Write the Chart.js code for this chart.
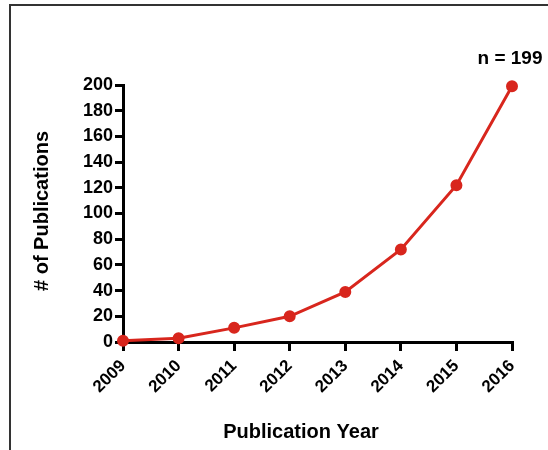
<!DOCTYPE html>
<html>
<head>
<meta charset="utf-8">
<script src="https://cdn.jsdelivr.net/npm/chart.js@4"></script>
<style>
  body { margin: 0; background: #fff; }
  #wrap { position: relative; width: 548px; height: 450px; overflow: hidden; }
  #frame { position: absolute; left: 9px; top: 4px; width: 600px; height: 500px;
           border-left: 2px solid #333; border-top: 2px solid #333; }
  canvas { position: absolute; left: 0; top: 0; }
</style>
</head>
<body>
<div id="wrap">
  <div id="frame"></div>
  <canvas id="pubChart" width="548" height="450"></canvas>
</div>
<script>
const years = ["2009", "2010", "2011", "2012", "2013", "2014", "2015", "2016"];
const publications = [1, 3, 11, 20, 39, 72, 122, 199];
const yTicks = [0, 20, 40, 60, 80, 100, 120, 140, 160, 180, 200];
const xTitle = "Publication Year";
const yTitle = "# of Publications";
const note = "n = 199";

const FONT = 'Arial, "Liberation Sans", sans-serif';
const RED = "#d8261d";

// axis titles and the n label, drawn on the canvas
const labelsPlugin = {
  id: "labels",
  afterDraw(c) {
    const ctx = c.ctx;
    const area = c.chartArea;
    ctx.save();
    ctx.fillStyle = "#000";
    ctx.textAlign = "center";
    ctx.textBaseline = "middle";
    ctx.font = "bold 20px " + FONT;
    ctx.fillText(xTitle, 301, 432);

    ctx.save();
    ctx.translate(42, 211);
    ctx.rotate(-Math.PI / 2);
    ctx.fillText(yTitle, 0, 0);
    ctx.restore();

    ctx.font = "bold 19px " + FONT;
    ctx.fillText(note, 510, 59);
    ctx.restore();
  }
};

let chart = new Chart(document.getElementById("pubChart"), {
  type: "line",
  data: {
    labels: years,
    datasets: [{
      data: publications,
      borderColor: RED,
      backgroundColor: RED,
      borderWidth: 3,
      pointRadius: 4.5,
      pointHoverRadius: 4.5,
      tension: 0,
      clip: false
    }]
  },
  options: {
    responsive: false,
    animation: false,
    layout: { padding: { left: 0, right: 36, top: 85, bottom: 0 } },
    plugins: {
      legend: { display: false },
      tooltip: { enabled: false }
    },
    scales: {
      x: {
        offset: false,
        grid: { drawOnChartArea: false, drawTicks: true, tickLength: 9, color: "#000", lineWidth: 3 },
        border: { display: true, color: "#000", width: 3 },
        ticks: {
          color: "#000",
          font: { family: FONT, size: 17, weight: "bold" },
          minRotation: 45,
          maxRotation: 45,
          padding: 5
        },
        afterFit: s => { s.height = 108; }
      },
      y: {
        min: 0,
        max: 200,
        afterBuildTicks: s => { s.ticks = yTicks.map(v => ({ value: v })); },
        grid: { drawOnChartArea: false, drawTicks: true, tickLength: 8, color: "#000", lineWidth: 3 },
        border: { display: true, color: "#000", width: 3 },
        ticks: {
          color: "#000",
          font: { family: FONT, size: 18, weight: "bold" },
          padding: 2
        },
        afterFit: s => { s.width = 123; }
      }
    }
  },
  plugins: [labelsPlugin]
});
</script>
</body>
</html>
